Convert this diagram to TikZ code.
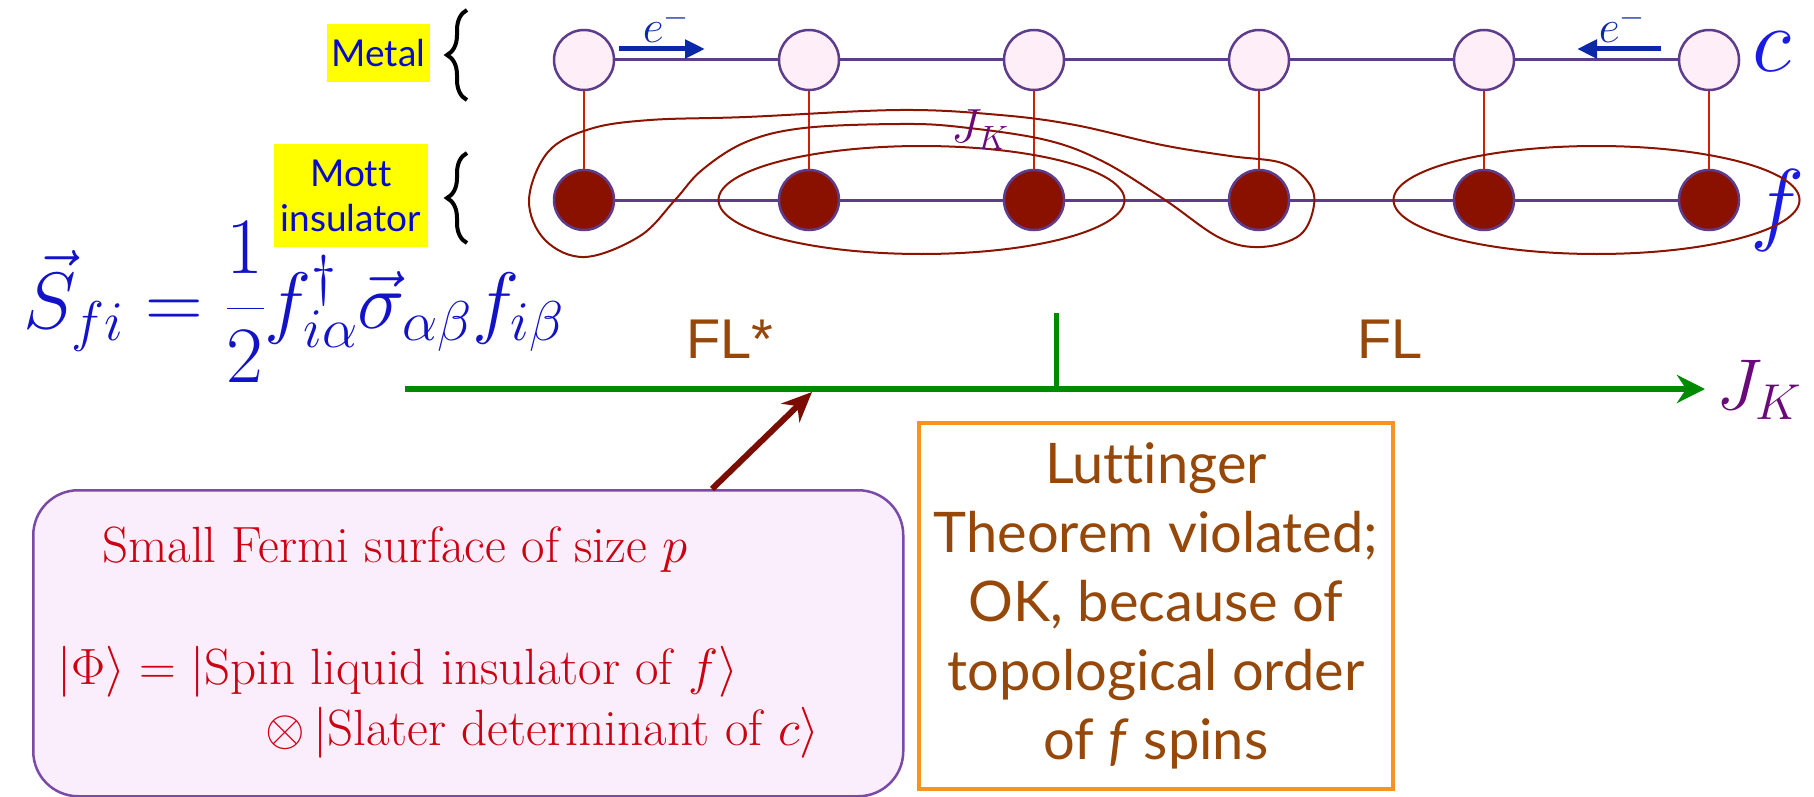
\RequirePackage{fix-cm}
\documentclass[tikz,border=0pt]{standalone}
\usepackage{fontspec}
\newfontfamily\gillfont[Ligatures=NoCommon]{Lato}
\newfontfamily\arialfont{Liberation Sans}
\usepackage{xcolor}
\definecolor{cEdge}{HTML}{5E3C8C}
\definecolor{cSiteC}{HTML}{FDEEF8}
\definecolor{cSiteF}{HTML}{8A1000}
\definecolor{cRung}{HTML}{CC2200}
\definecolor{cLoop}{HTML}{8A1400}
\definecolor{cHop}{HTML}{0A28A8}
\definecolor{cLbl}{HTML}{1A1AE6}
\definecolor{cEq}{HTML}{1212C8}
\definecolor{cTag}{HTML}{0A0ACC}
\definecolor{cYellow}{HTML}{FFFF00}
\definecolor{cAxis}{HTML}{008A00}
\definecolor{cJK}{HTML}{6A0A7A}
\definecolor{cBrown}{HTML}{95480A}
\definecolor{cOrange}{HTML}{F7941D}
\definecolor{cBoxEdge}{HTML}{7A4AA8}
\definecolor{cBoxFill}{HTML}{FAEEFD}
\definecolor{cRed}{HTML}{CC0010}
\definecolor{cPointer}{HTML}{7A0C00}
\usetikzlibrary{positioning,arrows.meta,calc,decorations.pathreplacing}
\tikzset{
  site-c/.style={circle,draw=cEdge,line width=2.5pt,fill=cSiteC,
    minimum size=60pt,inner sep=0pt},
  site-f/.style={site-c,fill=cSiteF},
  chain/.style={draw=cEdge,line width=3pt},
  rung/.style={draw=cRung,line width=2pt},
  singlet/.style={draw=cLoop,line width=2pt},
  hop/.style={-{Triangle[length=20pt,width=18pt]},line width=5pt,draw=cHop},
  hop-lbl/.style={anchor=base,inner sep=0pt,text=cHop,font=\fontsize{46}{46}\selectfont},
  chain-lbl/.style={anchor=base west,inner sep=0pt,text=cLbl,font=\fontsize{92}{92}\selectfont},
  tag-box/.style={fill=cYellow,text=cTag,align=center,inner sep=0pt,
    font={\gillfont\fontsize{37}{45}\selectfont}},
  layer-brace/.style={decorate,decoration={brace,amplitude=20pt},line width=4pt},
  % phase axis and labels
  axis/.style={-{Stealth[length=28pt,width=28pt]},line width=6pt,draw=cAxis},
  axis-tick/.style={line width=5pt,draw=cAxis},
  pointer/.style={-{Stealth[length=30pt,width=26pt]},line width=6pt,draw=cPointer},
  phase/.style={anchor=base,text=cBrown,font=\arialfont\fontsize{56}{56}\selectfont},
  note-box/.style={draw=cBoxEdge,fill=cBoxFill,line width=2.5pt,rounded corners=45pt},
  note-txt/.style={anchor=base west,inner sep=0pt,text=cRed,font=\fontsize{51}{51}\selectfont},
  lutt-box/.style={draw=cOrange,line width=3.5pt,text=cBrown,align=center,
    font={\gillfont\fontsize{56}{69}\selectfont}},
}

\begin{document}
\begin{tikzpicture}[x=1pt,y=-1pt,node distance=77.5pt and 162.5pt]
  \useasboundingbox (0,0) rectangle (1814,797);
  % two chains
  \node[site-c] (c1) at (584,60) {};
  \node[site-c,right=of c1] (c2) {};
  \node[site-c,right=of c2] (c3) {};
  \node[site-c,right=of c3] (c4) {};
  \node[site-c,right=of c4] (c5) {};
  \node[site-c,right=of c5] (c6) {};
  \node[site-f,below=of c1] (f1) {};
  \node[site-f,below=of c2] (f2) {};
  \node[site-f,below=of c3] (f3) {};
  \node[site-f,below=of c4] (f4) {};
  \node[site-f,below=of c5] (f5) {};
  \node[site-f,below=of c6] (f6) {};
  \draw[chain] (c1) -- (c2) -- (c3) -- (c4) -- (c5) -- (c6);
  \draw[chain] (f1) -- (f2) -- (f3) -- (f4) -- (f5) -- (f6);
  \draw[rung] (c1) -- (f1) (c2) -- (f2) (c3) -- (f3)
              (c4) -- (f4) (c5) -- (f5) (c6) -- (f6);
  \node[chain-lbl] (c-lbl) at (1752,72) {$c$};
  \node[chain-lbl] (f-lbl) at (1750,233) {$f$};

  % hopping electrons
  \coordinate (hop1a) at (619,49);
  \coordinate (hop1b) at (705,49);
  \coordinate (hop2a) at (1661,49);
  \coordinate (hop2b) at (1577,49);
  \draw[hop] (hop1a) -- (hop1b);
  \draw[hop] (hop2a) -- (hop2b);
  \node[hop-lbl] (e1) at (666,43) {$e^-$};
  \node[hop-lbl] (e2) at (1622,43) {$e^-$};

  % singlets
  \draw[singlet] ($(f2)!.5!(f3)$) ellipse [x radius=203pt,y radius=54pt];
  \draw[singlet] ($(f5)!.5!(f6)$) ellipse [x radius=203pt,y radius=54pt];
  \draw[singlet] plot[smooth cycle,tension=0.6] coordinates {
    (529,200) (548,152) (590,129) (650,120) (746,117) (900,110)
    (1000,115) (1075,125) (1162,145) (1230,156) (1282,163) (1308,182)
    (1314,205) (1300,235) (1261,247) (1220,238) (1165,200) (1104,162)
    (1046,140) (960,127) (900,124) (804,128) (746,142) (702,170)
    (675,200) (640,236) (585,257) (545,240)};
  \node[text=cJK,font=\fontsize{48}{48}\selectfont] (jk1) at (980,130) {$J_K$};

  % layer tags
  \node[tag-box,minimum width=103pt,minimum height=58pt] (metal) at (378.5,53) {Metal};
  \node[tag-box,minimum width=154pt,minimum height=103pt] (mott) at (351,195.5) {Mott\\insulator};
  \draw[layer-brace] (467,100) -- (467,10);
  \draw[layer-brace] (467,243) -- (467,153);

  \node[anchor=base west,inner sep=0pt,text=cEq,font=\fontsize{80}{80}\selectfont] (spin) at (23,328)
    {$\displaystyle\vec S_{fi} = \frac{1}{2} f^\dagger_{i\alpha}\vec\sigma_{\alpha\beta} f_{i\beta}$};

  % phase diagram
  \coordinate (ax-start) at (405,389);
  \coordinate (ax-end) at (1705,389);
  \coordinate (qcp) at (1056,313);
  \draw[axis] (ax-start) -- (ax-end);
  \draw[axis-tick] (qcp) -- (qcp |- ax-start);
  \node[phase] (flstar) at (730,358) {FL*};
  \node[phase] (fl) at (1390,358) {FL};
  \node[anchor=base west,inner sep=0pt,text=cJK,font=\fontsize{72}{72}\selectfont] (jk2) at (1716,409) {$J_K$};

  \node[note-box,anchor=north west,minimum width=870pt,minimum height=306pt] (fs-box) at (32,489) {};
  \node[note-txt] (fs-line) at (102,562) {Small Fermi surface of size $p$};
  \node[note-txt] (phi-line) at (57,684) {$|\Phi\rangle = |\mbox{Spin liquid insulator of }f\rangle$};
  \node[note-txt] (sl-line) at (265,745) {$\otimes\,|\mbox{Slater determinant of }c\rangle$};
  \coordinate (fstar) at (812,392);
  \coordinate (ptr) at (712,0);
  \draw[pointer] (ptr |- fs-box.north) -- (fstar);

  \node[lutt-box,minimum width=474pt,minimum height=366pt] (lutt) at (1156,606)
    {Luttinger\\Theorem violated;\\OK, because of\\topological order\\of \textit{f} spins};
\end{tikzpicture}
\end{document}
